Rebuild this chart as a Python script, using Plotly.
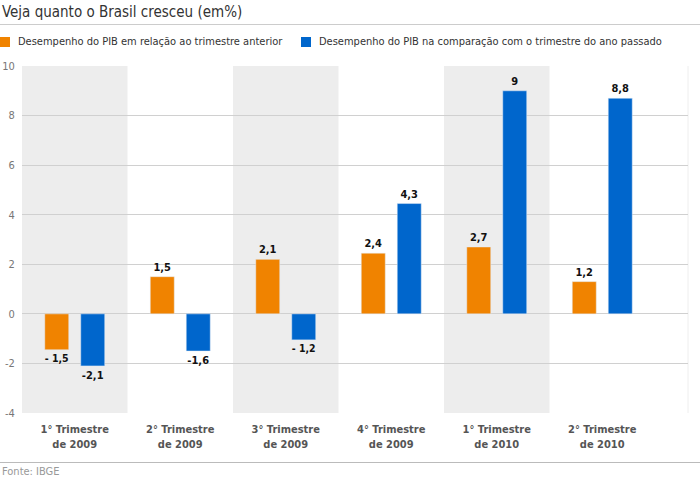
import plotly.graph_objects as go

# ---- data ----
categories = [
    "1° Trimestre<br>de 2009",
    "2° Trimestre<br>de 2009",
    "3° Trimestre<br>de 2009",
    "4° Trimestre<br>de 2009",
    "1° Trimestre<br>de 2010",
    "2° Trimestre<br>de 2010",
]
qoq_values = [-1.45, 1.5, 2.2, 2.45, 2.7, 1.3]
yoy_values = [-2.1, -1.5, -1.05, 4.45, 9.0, 8.7]
qoq_labels = ["- 1,5", "1,5", "2,1", "2,4", "2,7", "1,2"]
yoy_labels = ["-2,1", "-1,6", "- 1,2", "4,3", "9", "8,8"]
series_names = [
    "Desempenho do PIB em relação ao trimestre anterior",
    "Desempenho do PIB na comparação com o trimestre do ano passado",
]
y_ticks = [-4, -2, 0, 2, 4, 6, 8, 10]
title_text = "Veja quanto o Brasil cresceu (em%)"
source_text = "Fonte: IBGE"

# ---- style ----
W, H = 700, 480
ML, MR, MT, MB = 22, 12, 66, 67
PW, PH = W - ML - MR, H - MT - MB
ORANGE = "#F08300"
BLUE = "#0066CC"
FONT = "Tahoma, 'DejaVu Sans Condensed', 'DejaVu Sans', sans-serif"


def px_x(px):
    return (px - ML) / PW


def px_y(py):
    return (H - MB - py) / PH


fig = go.Figure()
fig.add_trace(go.Bar(
    x=categories, y=qoq_values, name=series_names[0], marker_color=ORANGE,
    text=qoq_labels, textposition="outside", cliponaxis=False,
    textfont=dict(family=FONT, size=11, color="#111111", weight="bold"),
    showlegend=False,
))
fig.add_trace(go.Bar(
    x=categories, y=yoy_values, name=series_names[1], marker_color=BLUE,
    text=yoy_labels, textposition="outside", cliponaxis=False,
    textfont=dict(family=FONT, size=11, color="#111111", weight="bold"),
    showlegend=False,
))

shapes = []
# alternating shaded bands
for i in range(0, len(categories), 2):
    shapes.append(dict(type="rect", xref="x", yref="paper", x0=i - 0.5, x1=i + 0.5,
                       y0=0, y1=1, fillcolor="#EDEDED", line=dict(width=0), layer="below"))
# right border of plot
shapes.append(dict(type="line", xref="paper", yref="paper", x0=1, x1=1, y0=0, y1=1,
                   line=dict(color="#EEEEEE", width=1), layer="below"))
# line under title
shapes.append(dict(type="line", xref="paper", yref="paper", x0=px_x(0), x1=px_x(W),
                   y0=px_y(24.5), y1=px_y(24.5), line=dict(color="#CCCCCC", width=1)))
# line above source
shapes.append(dict(type="line", xref="paper", yref="paper", x0=px_x(0), x1=px_x(W),
                   y0=px_y(462.5), y1=px_y(462.5), line=dict(color="#BBBBBB", width=1)))
# legend squares
for sx, col in [(0, ORANGE), (301, BLUE)]:
    shapes.append(dict(type="rect", xref="paper", yref="paper", x0=px_x(sx), x1=px_x(sx + 10),
                       y0=px_y(47), y1=px_y(37), fillcolor=col, line=dict(width=0)))

annotations = [
    dict(text=title_text, xref="paper", yref="paper", x=px_x(0), y=px_y(12),
         xanchor="left", yanchor="middle", showarrow=False,
         font=dict(family=FONT, size=15, color="#333333")),
    dict(text=series_names[0], xref="paper", yref="paper", x=px_x(16), y=px_y(42),
         xanchor="left", yanchor="middle", showarrow=False,
         font=dict(family=FONT, size=11, color="#333333")),
    dict(text=series_names[1], xref="paper", yref="paper", x=px_x(317), y=px_y(42),
         xanchor="left", yanchor="middle", showarrow=False,
         font=dict(family=FONT, size=11, color="#333333")),
    dict(text=source_text, xref="paper", yref="paper", x=px_x(0), y=px_y(471),
         xanchor="left", yanchor="middle", showarrow=False,
         font=dict(family=FONT, size=11, color="#999999")),
]

cat_w = 105.5
n_span = PW / cat_w

fig.update_layout(
    width=W, height=H,
    margin=dict(l=ML, r=MR, t=MT, b=MB, pad=0, autoexpand=False),
    paper_bgcolor="white", plot_bgcolor="white",
    barmode="group", bargap=0.318, bargroupgap=0.333,
    shapes=shapes, annotations=annotations,
    font=dict(family=FONT),
)
fig.update_xaxes(
    type="category", range=[-0.5, -0.5 + n_span], automargin=False,
    showgrid=False, zeroline=False, showline=False,
    ticks="outside", ticklen=6, tickcolor="rgba(0,0,0,0)",
    tickfont=dict(family=FONT, size=11, color="#555555", weight="bold"),
)
fig.update_yaxes(
    range=[-4, 10], tickvals=y_ticks, ticktext=[str(v) for v in y_ticks],
    automargin=False,
    showgrid=True, gridcolor="#D0D0D0", gridwidth=1,
    zeroline=True, zerolinecolor="#D0D0D0", zerolinewidth=1,
    showline=False, ticks="outside", ticklen=4, tickcolor="rgba(0,0,0,0)",
    tickfont=dict(family=FONT, size=11, color="#777777"),
)

fig.write_html("out.html")
